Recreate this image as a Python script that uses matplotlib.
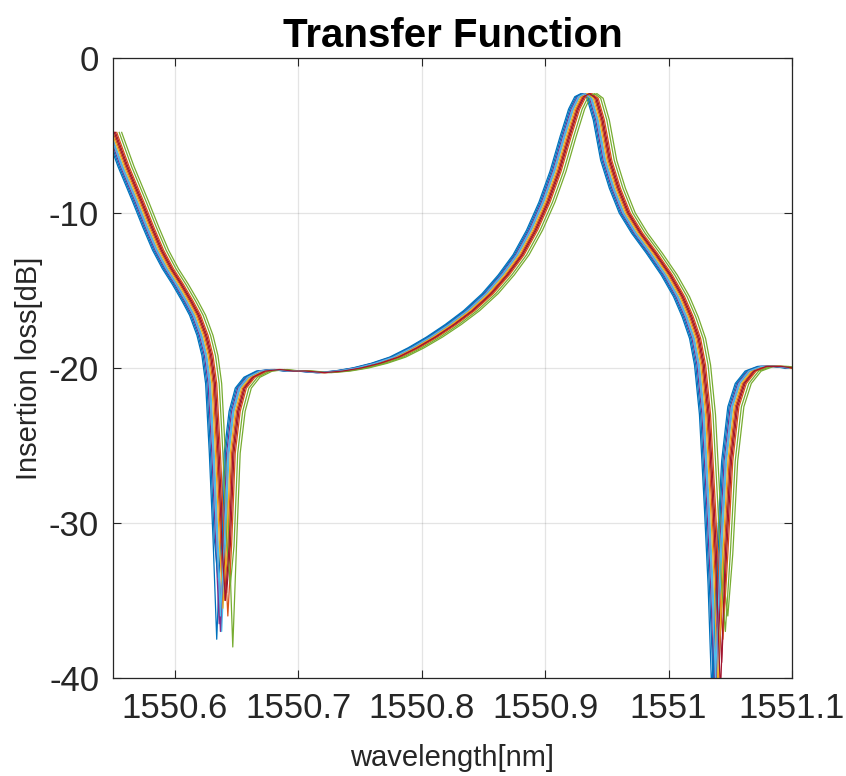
import numpy as np
import matplotlib
matplotlib.use("Agg")
import matplotlib.pyplot as plt

# ----------------------------
# base trace (wavelength nm, insertion loss dB)
wl_base = [1550.550, 1550.560, 1550.572, 1550.580, 1550.588, 1550.596, 1550.604,
           1550.612, 1550.618, 1550.624, 1550.628, 1550.631, 1550.634, 1550.637,
           1550.640, 1550.643, 1550.646, 1550.650, 1550.655, 1550.662, 1550.672,
           1550.684, 1550.695, 1550.705, 1550.720, 1550.735, 1550.750, 1550.765,
           1550.780, 1550.795, 1550.810, 1550.825, 1550.840, 1550.855, 1550.868,
           1550.880, 1550.891, 1550.901, 1550.910, 1550.918, 1550.925, 1550.930,
           1550.935, 1550.940, 1550.945, 1550.951, 1550.958, 1550.966, 1550.976,
           1550.988, 1551.000, 1551.010, 1551.017, 1551.023, 1551.027, 1551.031,
           1551.035, 1551.038, 1551.041, 1551.045, 1551.049, 1551.054, 1551.060,
           1551.068, 1551.078, 1551.090, 1551.100]
il_base = [-4.8, -7.0, -9.3, -10.9, -12.4, -13.6, -14.6,
           -15.7, -16.6, -17.9, -19.2, -21.0, -25.5, -31.0,
           -36.0, -31.5, -25.5, -22.8, -21.3, -20.6, -20.2,
           -20.1, -20.2, -20.2, -20.3, -20.2, -20.0, -19.7,
           -19.3, -18.7, -18.0, -17.2, -16.3, -15.2, -14.0,
           -12.7, -11.1, -9.3, -7.3, -5.1, -3.3, -2.5,
           -2.3, -2.6, -4.0, -6.6, -8.4, -10.0, -11.3,
           -12.6, -14.0, -15.4, -16.7, -18.1, -19.8, -23.0,
           -29.0, -34.0, -39.0, -32.0, -26.0, -22.5, -21.0,
           -20.2, -19.9, -19.9, -20.0]

# per-trace wavelength shift (nm) and dip depths (dB)
shifts = [-0.006, 0.000, 0.001, -0.004, 0.007, -0.002, 0.002,
          -0.005, 0.003, -0.001, -0.003, 0.005, -0.003, 0.001]
left_dips = [-37.5, -35.0, -33.0, -36.5, -38.0, -37.0, -34.5,
             -33.5, -36.0, -35.5, -37.0, -34.0, -36.0, -35.0]
right_dips = [-41.0, -38.0, -37.0, -41.0, -36.0, -41.0, -39.0,
              -40.0, -37.5, -41.0, -41.0, -37.0, -40.0, -41.0]

colors = ["#0072BD", "#D95319", "#EDB120", "#7E2F8E", "#77AC30", "#4DBEEE", "#A2142F"]

xticks = [1550.6, 1550.7, 1550.8, 1550.9, 1551.0, 1551.1]
xticklabels = ["1550.6", "1550.7", "1550.8", "1550.9", "1551", "1551.1"]
yticks = [-40, -30, -20, -10, 0]
yticklabels = ["-40", "-30", "-20", "-10", "0"]
# ----------------------------

plt.rcParams["font.family"] = ["Liberation Sans", "DejaVu Sans"]
plt.rcParams["axes.unicode_minus"] = False

fig = plt.figure(figsize=(8.46, 7.76), dpi=100)
ax = fig.add_axes([0.1336, 0.1263, 0.8026, 0.7990])

wl_base = np.array(wl_base)
il_base = np.array(il_base)
i_left = np.argmin(np.where(wl_base < 1550.8, il_base, 0))
i_right = np.argmin(np.where(wl_base > 1550.8, il_base, 0))

for k, s in enumerate(shifts):
    il = il_base.copy()
    il[i_left] = left_dips[k]
    il[i_right] = right_dips[k]
    ax.plot(wl_base + s, il, color=colors[k % len(colors)], lw=0.9)

ax.set_xlim(1550.55, 1551.1)
ax.set_ylim(-40, 0)
ax.set_xticks(xticks)
ax.set_xticklabels(xticklabels)
ax.set_yticks(yticks)
ax.set_yticklabels(yticklabels)

axcol = "#262626"
ax.grid(True, color="#262626", alpha=0.12, lw=0.9)
ax.tick_params(direction="in", length=6, width=0.8, colors=axcol, labelsize=25,
               top=True, right=True, pad=10)
for sp in ax.spines.values():
    sp.set_color(axcol)
    sp.set_linewidth(0.9)

ax.set_xlabel("wavelength[nm]", fontsize=21, color=axcol, labelpad=14)
ax.set_ylabel("Insertion loss[dB]", fontsize=21, color=axcol, labelpad=4)
ax.set_title("Transfer Function", fontsize=29, fontweight="bold", pad=8)

fig.savefig("out.png", dpi=100)
